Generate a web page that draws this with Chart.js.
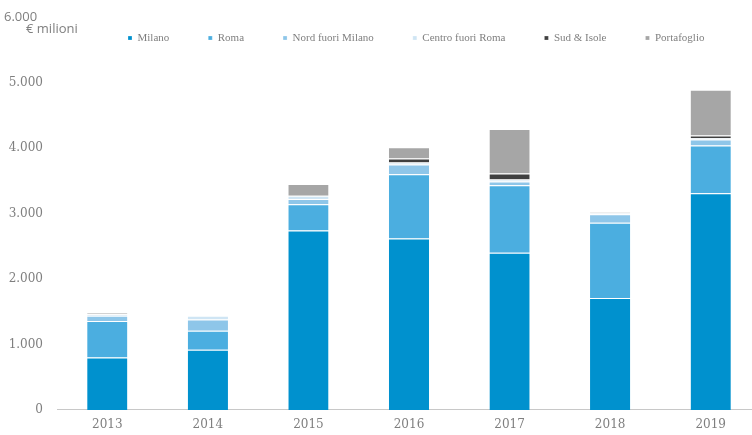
<!DOCTYPE html>
<html>
<head>
<meta charset="utf-8">
<script src="https://cdn.jsdelivr.net/npm/chart.js@4"></script>
<style>
    html, body { margin: 0; padding: 0; background: #fff; overflow: hidden; }
    #wrap { position: relative; width: 761px; height: 435px; }
</style>
</head>
<body>
<div id="wrap"><canvas id="chart"></canvas></div>
<script>
// Investimenti per area, € milioni
const years = ["2013", "2014", "2015", "2016", "2017", "2018", "2019"];
const milano = [800, 920, 2740, 2620, 2400, 1710, 3310];
const roma = [560, 290, 400, 980, 1030, 1150, 730];
const nordFuoriMilano = [80, 170, 80, 150, 60, 130, 90];
const centroFuoriRoma = [20, 60, 50, 30, 30, 15, 20];
const sudIsole = [0, 0, 0, 60, 90, 0, 40];
const portafoglio = [30, 0, 180, 170, 680, 15, 700];
const yTicks = [0, 1000, 2000, 3000, 4000, 5000, 6000];

const fmt = v => v.toLocaleString("it-IT");

const series = [
    { label: "Milano", data: milano, color: "#0091ce" },
    { label: "Roma", data: roma, color: "#4baee0" },
    { label: "Nord fuori Milano", data: nordFuoriMilano, color: "#8ec6e9" },
    { label: "Centro fuori Roma", data: centroFuoriRoma, color: "#cfe5f4" },
    { label: "Sud & Isole", data: sudIsole, color: "#404040" },
    { label: "Portafoglio", data: portafoglio, color: "#a6a6a6" },
];

const LEGEND_X = 128;
const LEGEND_Y = 38;

const extras = {
    id: "extras",
    // legend row floats over the plot, so it takes no layout height
    beforeLayout(chart) {
        const lg = chart.legend;
        if (lg && !lg._flat) {
            const fit = lg.fit.bind(lg);
            lg.fit = function () { fit(); this.height = 0; };
            lg._flat = true;
        }
    },
    afterLayout(chart) {
        const lg = chart.legend;
        const pad = lg.options.labels.padding;
        lg.left = LEGEND_X - pad;
        lg.top = LEGEND_Y - 5.5 - pad;
        lg.right = chart.width;
        lg.bottom = lg.top + pad * 2 + 20;
        lg.width = lg.right - lg.left;
        lg.height = lg.bottom - lg.top;
    },
    beforeDatasetsDraw(chart) {
        const { ctx, chartArea, scales } = chart;
        const y0 = Math.round(scales.y.getPixelForValue(0)) - 0.5;
        ctx.save();
        ctx.strokeStyle = "#c8c8c8";
        ctx.lineWidth = 1.2;
        ctx.beginPath();
        ctx.moveTo(chartArea.left, y0);
        ctx.lineTo(chartArea.right, y0);
        ctx.stroke();

        // unit label in the top-left corner
        const yTop = scales.y.getPixelForValue(6000);
        ctx.fillStyle = "#7f7f7f";
        ctx.font = "13px 'Open Sans'";
        ctx.textBaseline = "middle";
        ctx.textAlign = "left";
        ctx.fillText(fmt(6000), 4, yTop);
        ctx.fillText("€ milioni", 26, yTop + 12);
        ctx.restore();
    }
};

new Chart(document.getElementById("chart").getContext("2d"), {
    type: "bar",
    data: {
        labels: years,
        datasets: series.map(s => ({
            label: s.label,
            data: s.data,
            backgroundColor: s.color,
            borderColor: "#ffffff",
            borderWidth: { top: 1, right: 0, bottom: 0, left: 0 },
            barPercentage: 0.4,
            categoryPercentage: 1.0,
        })),
    },
    options: {
        responsive: true,
        maintainAspectRatio: false,
        animation: false,
        layout: { padding: { top: 17, left: 0, right: 0, bottom: 0 } },
        plugins: {
            tooltip: { enabled: false },
            legend: {
                position: "top",
                align: "start",
                labels: {
                    boxWidth: 4,
                    boxHeight: 4,
                    padding: 39,
                    color: "#7f7f7f",
                    font: { family: "'Liberation Serif'", size: 11 },
                },
            },
        },
        scales: {
            x: {
                stacked: true,
                grid: { display: false, drawTicks: false },
                border: { display: false },
                ticks: {
                    color: "#7f7f7f",
                    padding: 8,
                    font: { family: "'DejaVu Serif'", size: 12 },
                },
                afterFit(scale) { scale.height = 25; },
            },
            y: {
                stacked: true,
                min: 0,
                max: 6000,
                afterBuildTicks(scale) { scale.ticks = yTicks.map(v => ({ value: v })); },
                grid: { display: false, drawTicks: false },
                border: { display: false },
                ticks: {
                    color: "#7f7f7f",
                    padding: 14,
                    font: { family: "'DejaVu Serif'", size: 12 },
                    callback: v => (v === 6000 ? "" : fmt(v)),
                },
                afterFit(scale) {
                    scale.width = 57;
                    scale.paddingTop = 0;
                    scale.paddingBottom = 0;
                },
            },
        },
    },
    plugins: [extras],
});
</script>
</body>
</html>
